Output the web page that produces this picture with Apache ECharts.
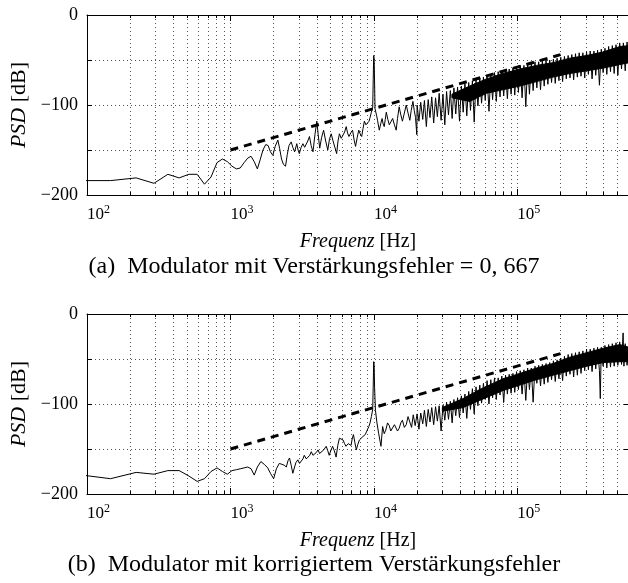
<!DOCTYPE html>
<html>
<head>
<meta charset="utf-8">
<script src="https://cdn.jsdelivr.net/npm/echarts@6/dist/echarts.min.js"></script>
<style>html,body{margin:0;padding:0;background:#fff}#c{width:628px;height:583px}</style>
</head>
<body>
<div id="c"></div>
<script>
// ---- axis ticks ----
const xMin = 100, xMax = 600000;
const xMinor = [100,200,300,400,500,600,700,800,900,1000,2000,3000,4000,5000,6000,7000,8000,9000,
  10000,20000,30000,40000,50000,60000,70000,80000,90000,100000,200000,300000,400000,500000];
const xMajor = [100,1000,10000,100000];
const xExp = ['2','3','4','5'];
const yMin = -200, yMax = 0, yStep = 50;
const yLabelled = [0,-100,-200];

// ---- (a) Modulator mit Verstärkungsfehler = 0,667 ----
const sparseA = [[73.2,-184],[146,-184],[220,-181],[293,-187],[366,-177],[439,-181],[513,-177],[586,-177],
  [659,-188],[732,-180],[806,-164],[879,-160],[952,-163],[1025,-168],[1100,-171],[1170,-170],[1245,-164],
  [1320,-159],[1392,-157],[1465,-163],[1540,-171],[1610,-161],[1685,-150],[1760,-144],[1830,-145],[1900,-152],
  [1975,-156],[2050,-146],[2140,-139],[2200,-148],[2270,-160],[2340,-166],[2420,-168],[2490,-155],[2560,-145],
  [2650,-141],[2720,-147],[2800,-152],[2900,-143],[2960,-150],[3020,-154],[3110,-147],[3200,-143],[3290,-147],
  [3370,-148],[3460,-140],[3555,-135],[3650,-145],[3760,-152],[3880,-133],[4000,-118],[4090,-133],[4190,-148],
  [4320,-136],[4460,-128],[4610,-140],[4770,-150],[4900,-138],[5040,-132],[5170,-139],[5300,-140],[5500,-154],
  [5620,-140],[5750,-132],[5920,-137],[6100,-139],[6250,-130],[6410,-124],[6550,-131],[6700,-135],[6900,-131],
  [7100,-128],[7280,-139],[7450,-146],[7650,-136],[7840,-128],[8020,-132],[8220,-135],[8400,-126],[8580,-118],
  [8800,-122],[9040,-124],[9250,-118],[9400,-114],[9600,-108],[9810,-103],[9890,-72],[9960,-45],[10030,-48],
  [10110,-76],[10180,-104],[10450,-112],[10600,-117],[10900,-128],[11150,-121],[11400,-115],[11600,-121],
  [11800,-124],[12000,-116],[12200,-108],[12500,-116],[12800,-122],[13100,-119],[13500,-115],[13900,-122],
  [14300,-128],[14600,-115],[15000,-102],[15400,-111],[15800,-118],[16300,-109],[16800,-100],[17300,-109],
  [17800,-117],[18200,-106],[18700,-96],[19100,-106],[19500,-114],[19900,-133]];
// dense noise part, alternating upper / lower excursions
const zigFA = [20000,20600,21200,21900,22500,23200,23900,24600,25300,26100,26900,27700,28500,29400,30300,
  31200,32100,33100,34100,35100,36100,37200,38300,39500,40700,41900,43100,44400,45800,47100,48600,50000,
  51500,53100,54700,56300,58000,59700,61500,63400,65300,67200,69300,71300,73500,75700,77900,80300,82700,
  85200,87700,90400,93100,95900,98700,101700,104700,107900,111100,114500,117900,121400,125100,128800,
  132700,136700,140800,145000,149300,153800,158400,163200,168100,173100,178300,183700,189200,194900,
  200700,206700,212900,219300,225900,232700,239600,246800,254200,261900,269700,277800,286100,294700,
  303600,312700,322000,331700,341700,351900,362400,373300,384500,396100,407900,420200,432800,445800,
  459100,472900,487100,501700,516700,532200,548200,564600,581600,599000];
const zigVA = [-100,-118,-97,-116,-95,-124,-94,-114,-91,-120,-92,-113,-87,-117,-88,
  -122,-85,-111,-84,-115,-81,-110,-80,-118,-79,-108,-76,-112,-75,-106,-73,-119,
  -72,-101,-70,-98,-69,-95,-67,-107,-66,-94,-64,-96,-63,-91,-62,-90,-61,
  -93,-60,-88,-59,-89,-57,-86,-56,-92,-56,-102,-54,-88,-53,-84,
  -52,-81,-52,-83,-51,-79,-50,-77,-50,-75,-49,-76,-48,-73,
  -47,-74,-46,-71,-45,-70,-44,-72,-43,-69,-42,-68,-42,-70,
  -41,-66,-40,-71,-40,-67,-39,-78,-38,-64,-37,-66,-35,-63,
  -34,-65,-33,-67,-31,-60,-31,-62,-30,-57];
const coreFA  = [35000,46500,60900,79400,104000,136000,177000,232000,304000,397000,518000,600000];
const coreHiA = [-88,-79,-71,-65,-60,-56,-53,-48,-45,-41,-35,-34];
const coreLoA = [-92,-96,-87,-83,-79,-74,-69,-65,-62,-59,-55,-53];
const dashF = [1000,200000];
const dashA = [-150,-44];

// ---- (b) Modulator mit korrigiertem Verstärkungsfehler ----
const sparseB = [[73.2,-177],[146,-183],[220,-176],[293,-178],[366,-174],[439,-174],[513,-180],[586,-186],
  [659,-183],[732,-175],[806,-171],[879,-175],[952,-178],[1025,-174],[1100,-173],[1170,-172],[1245,-171],
  [1320,-170],[1392,-172],[1465,-179],[1540,-170],[1630,-164],[1720,-167],[1820,-171],[1900,-177],[2000,-183],
  [2090,-172],[2190,-166],[2280,-167],[2370,-168],[2450,-170],[2520,-163],[2580,-160],[2650,-168],[2720,-177],
  [2800,-170],[2860,-165],[2950,-162],[3030,-166],[3120,-168],[3200,-161],[3270,-157],[3380,-161],[3480,-162],
  [3570,-157],[3660,-153],[3760,-157],[3850,-159],[3960,-154],[4080,-151],[4180,-155],[4290,-157],[4470,-151],
  [4650,-147],[4770,-152],[4880,-157],[5000,-152],[5150,-147],[5300,-152],[5450,-159],[5600,-146],[5750,-138],
  [5920,-139],[6100,-140],[6240,-144],[6380,-147],[6500,-145],[6620,-144],[6780,-145],[6930,-146],[7050,-139],
  [7200,-134],[7370,-143],[7540,-151],[7720,-145],[7920,-140],[8150,-138],[8400,-136],[8550,-135],[8700,-134],
  [8870,-131],[9040,-129],[9220,-125],[9400,-121],[9600,-114],[9810,-106],[9890,-80],[9960,-53],[10030,-56],
  [10110,-82],[10250,-107],[10500,-121],[10800,-133],[11200,-147],[11500,-125],[11800,-133],[12100,-129],
  [12450,-121],[12800,-124],[13100,-130],[13500,-129],[13900,-123],[14300,-121],[14600,-130],[15000,-127],
  [15400,-121],[15800,-118],[16300,-126],[16800,-123],[17300,-114]];
const zigFB = [17800,18300,18800,19400,20000,20600,21200,21900,22500,23200,23900,24600,25300,26100,26900,
  27700,28500,29400,30300,31200,32100,33100,34100,35100,36100,37200,38300,39500,40700,41900,43100,44400,
  45800,47100,48600,50000,51500,53100,54700,56300,58000,59700,61500,63400,65300,67200,69300,71300,73500,
  75700,77900,80300,82700,85200,87700,90400,93100,95900,98700,101700,104700,107900,111100,114500,117900,
  121400,125100,128800,132700,136700,140800,145000,149300,153800,158400,163200,168100,173100,178300,
  183700,189200,194900,200700,206700,212900,219300,225900,232700,239600,246800,254200,261900,269700,
  277800,286100,294700,303600,312700,322000,331700,341700,351900,362400,373300,378500,384500,396100,
  407900,420200,432800,445800,459100,472900,487100,501700,516700,532200,546000,553000,564600,581600,599000];
const zigVB = [-114,-126,-112,-124,-111,-128,-110,-122,-107,-125,-106,-120,-104,-123,-103,
  -119,-102,-130,-101,-118,-98,-117,-97,-121,-95,-113,-93,-115,-91,-110,-89,-116,
  -86,-106,-83,-111,-81,-102,-79,-99,-77,-95,-74,-100,-73,-93,-71,-95,-71,
  -90,-69,-98,-68,-89,-67,-88,-66,-87,-64,-84,-63,-89,-62,-96,-60,
  -84,-60,-98,-58,-77,-57,-80,-56,-78,-55,-76,-54,-73,-52,
  -75,-51,-72,-49,-74,-47,-69,-45,-67,-44,-70,-43,-68,-42,
  -66,-41,-63,-39,-62,-39,-64,-38,-61,-37,-63,-94,-37,-58,
  -35,-60,-34,-59,-33,-58,-32,-57,-31,-56,-21,-58,-33,-57,-35];
const coreFB  = [30000,41800,54600,79400,104000,136000,177000,232000,304000,397000,518000,600000];
const coreHiB = [-104,-94,-84,-72,-66,-60,-55,-48,-43,-38,-34,-37];
const coreLoB = [-108,-104,-96,-85,-79,-73,-68,-63,-58,-54,-53,-53];
const dashB = [-150,-44];

const captions = ['(a)  Modulator mit Verstärkungsfehler = 0, 667',
                  '(b)  Modulator mit korrigiertem Verstärkungsfehler'];

// ---- chart ----
const FONT = '"Liberation Serif", "Times New Roman", serif';
const grids = [{top:15}, {top:314}];
const chart = echarts.init(document.getElementById('c'), null, {renderer:'canvas'});

function xAxes(gi) {
  const base = {type:'log', logBase:10, min:xMin, max:xMax, gridIndex:gi};
  const lbl = {
    customValues: xMajor, margin: 9, align: 'left', color:'#000',
    fontFamily: FONT, fontSize: 17,
    formatter: v => {
      let k = xMajor.findIndex(m => Math.abs(m - v) / m < 1e-6);
      return '{b|10}{s|' + xExp[k] + '}';
    },
    rich: {b:{fontFamily:FONT, fontSize:17, color:'#000'},
           s:{fontFamily:FONT, fontSize:12, color:'#000', padding:[0,0,9,0]}}
  };
  return [
    Object.assign({}, base, {position:'bottom',
      axisLine:{show:true, onZero:false, lineStyle:{color:'#000', width:1}},
      axisTick:{show:true, inside:true, length:3, customValues:xMinor, lineStyle:{color:'#000'}},
      minorTick:{show:false},
      splitLine:{show:true, lineStyle:{color:'#555', width:1, type:[1,3]}},
      axisLabel:lbl,
      name:'{i|Frequenz} [Hz]', nameLocation:'middle', nameGap:37,
      nameTextStyle:{fontFamily:FONT, fontSize:20, color:'#000',
        rich:{i:{fontFamily:FONT, fontSize:20, fontStyle:'italic', color:'#000'}}}
    }),
    Object.assign({}, base, {position:'bottom',
      axisLine:{show:false, onZero:false},
      axisTick:{show:true, inside:true, length:6, customValues:xMajor, lineStyle:{color:'#000'}},
      splitLine:{show:false}, axisLabel:{show:false}}),
    Object.assign({}, base, {position:'top',
      axisLine:{show:true, onZero:false, lineStyle:{color:'#000', width:1}},
      axisTick:{show:true, inside:true, length:3, customValues:xMinor, lineStyle:{color:'#000'}},
      splitLine:{show:false}, axisLabel:{show:false}}),
    Object.assign({}, base, {position:'top',
      axisLine:{show:false, onZero:false},
      axisTick:{show:true, inside:true, length:6, customValues:xMajor, lineStyle:{color:'#000'}},
      splitLine:{show:false}, axisLabel:{show:false}})
  ];
}
function yAxes(gi) {
  const base = {type:'value', min:yMin, max:yMax, interval:yStep, gridIndex:gi};
  return [
    Object.assign({}, base, {position:'left',
      axisLine:{show:true, onZero:false, lineStyle:{color:'#000', width:1}},
      axisTick:{show:true, inside:true, length:5, lineStyle:{color:'#000'}},
      splitLine:{show:true, lineStyle:{color:'#555', width:1, type:[1,3]}},
      axisLabel:{margin:9, color:'#000', fontFamily:FONT, fontSize:18,
        formatter: v => yLabelled.indexOf(v) >= 0 ? (v < 0 ? '\u2212' + (-v) : String(v)) : ''},
      name:'{i|PSD} [dB]', nameLocation:'middle', nameGap:57,
      nameTextStyle:{fontFamily:FONT, fontSize:22, color:'#000',
        rich:{i:{fontFamily:FONT, fontSize:22, fontStyle:'italic', color:'#000'}}}
    }),
    Object.assign({}, base, {position:'right',
      axisLine:{show:true, onZero:false, lineStyle:{color:'#000', width:1}},
      axisTick:{show:true, inside:true, length:5, lineStyle:{color:'#000'}},
      splitLine:{show:false}, axisLabel:{show:false}})
  ];
}

function coreSeries(gi, F, Hi, Lo) {
  return {
    type:'custom', xAxisIndex:gi*4, yAxisIndex:gi*2, clip:true, z:3,
    data:[[F[0], Hi[0]]],
    renderItem:(params, api) => {
      const pts = [];
      for (let i = 0; i < F.length; i++) pts.push(api.coord([F[i], Hi[i]]));
      for (let i = F.length - 1; i >= 0; i--) pts.push(api.coord([F[i], Lo[i]]));
      return {type:'polygon', shape:{points:pts},
        style:{fill:'#000', stroke:'#000', lineWidth:1}};
    }
  };
}

const sets = [
  {sparse:sparseA, zF:zigFA, zV:zigVA, F:coreFA, Hi:coreHiA, Lo:coreLoA, dash:dashA},
  {sparse:sparseB, zF:zigFB, zV:zigVB, F:coreFB, Hi:coreHiB, Lo:coreLoB, dash:dashB}
];
const series = [];
sets.forEach((s, gi) => {
  series.push({type:'line', xAxisIndex:gi*4, yAxisIndex:gi*2, symbol:'none',
    data: s.sparse.concat(s.zF.map((f, i) => [f, s.zV[i]])),
    lineStyle:{color:'#000', width:1}, z:3, clip:true});
  series.push(coreSeries(gi, s.F, s.Hi, s.Lo));
  series.push({type:'line', xAxisIndex:gi*4, yAxisIndex:gi*2, symbol:'none', z:4,
    data: dashF.map((f, i) => [f, s.dash[i]]),
    lineStyle:{color:'#000', width:3, type:[8,6], cap:'butt'}});
});

chart.setOption({
  animation:false,
  backgroundColor:'#fff',
  grid: grids.map(g => ({left:87, width:542, top:g.top, height:180, containLabel:false, outerBoundsMode:'none'})),
  xAxis: [].concat(xAxes(0), xAxes(1)),
  yAxis: [].concat(yAxes(0), yAxes(1)),
  series: series,
  graphic: [
    {type:'text', left:'center', top:255, style:{text:captions[0], fontFamily:FONT, fontSize:24, fill:'#000'}},
    {type:'text', left:'center', top:553, style:{text:captions[1], fontFamily:FONT, fontSize:24, fill:'#000'}}
  ]
});
</script>
</body>
</html>
